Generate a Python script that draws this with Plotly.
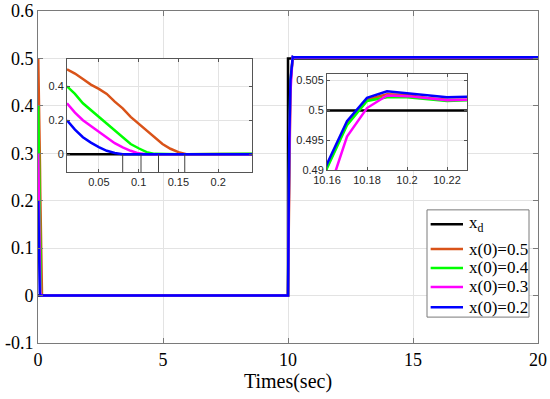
import plotly.graph_objects as go

# ---------------- data ----------------
# reference signal x_d
t_ref = [0, 10, 10, 20]
x_ref = [0, 0, 0.5, 0.5]

# decay phase (first 0.16 s)
t_decay = [0.01, 0.02, 0.03, 0.04, 0.05, 0.06, 0.07, 0.08, 0.09, 0.10,
           0.11, 0.12, 0.13, 0.14, 0.15, 0.16]
dec_05 = [0.5, 0.475, 0.443, 0.41, 0.385, 0.355, 0.31, 0.27, 0.22, 0.18,
          0.135, 0.095, 0.06, 0.032, 0.012, 0.0]
dec_04 = [0.4, 0.355, 0.30, 0.26, 0.22, 0.18, 0.135, 0.095, 0.06, 0.035,
          0.012, 0.002, 0.0, 0.0, 0.0, 0.0]
dec_03 = [0.3, 0.245, 0.20, 0.165, 0.135, 0.10, 0.065, 0.04, 0.02, 0.005,
          0.0, 0.0, 0.0, 0.0, 0.0, 0.0]
dec_02 = [0.2, 0.145, 0.10, 0.068, 0.042, 0.02, 0.007, 0.0, 0.0, 0.0,
          0.0, 0.0, 0.0, 0.0, 0.0, 0.0]

# rise phase after the step at t = 10 s
t_rise = [10.0, 10.05, 10.10, 10.15, 10.16, 10.17, 10.18, 10.19, 10.20,
          10.21, 10.22, 10.23, 20.0]
rise_05 = [0, 0.32, 0.45, 0.481, 0.4905, 0.4978, 0.5018, 0.5027, 0.5026,
           0.5021, 0.5018, 0.5019, 0.5019]
rise_04 = [0, 0.32, 0.45, 0.480, 0.4903, 0.4975, 0.5016, 0.5022, 0.5022,
           0.5019, 0.5016, 0.5017, 0.5017]
rise_03 = [0, 0.29, 0.43, 0.475, 0.4855, 0.4956, 0.5004, 0.5025, 0.5024,
           0.5020, 0.5017, 0.5018, 0.5018]
rise_02 = [0, 0.33, 0.455, 0.482, 0.4910, 0.4982, 0.5021, 0.5032, 0.5029,
           0.5025, 0.5022, 0.5023, 0.5023]

# times at which each response reaches zero (marked in the left inset)
settle_times = [0.08, 0.103, 0.125, 0.158]

ref_name = "x<sub>d</sub>"
series_names = ["x(0)=0.5", "x(0)=0.4", "x(0)=0.3", "x(0)=0.2"]
series_colors = ["#D95319", "#00FF00", "#FF00FF", "#0000FF"]
series_decay = [dec_05, dec_04, dec_03, dec_02]
series_rise = [rise_05, rise_04, rise_03, rise_02]

main_xticks = [0, 5, 10, 15, 20]
main_yticks = [-0.1, 0, 0.1, 0.2, 0.3, 0.4, 0.5, 0.6]
main_yticktext = ["-0.1", "0", "0.1", "0.2", "0.3", "0.4", "0.5", "0.6"]

in1_xrange = [0.01, 0.2425]
in1_yrange = [-0.105, 0.56]
in1_xticks = [0.05, 0.1, 0.15, 0.2]
in1_yticks = [0, 0.2, 0.4]

in2_xrange = [10.16, 10.23]
in2_yrange = [0.49, 0.5061]
in2_xticks = [10.16, 10.18, 10.2, 10.22]
in2_yticks = [0.49, 0.495, 0.5, 0.505]

# ---------------- figure ----------------
fig = go.Figure()

axes_sets = [("x", "y"), ("x2", "y2"), ("x3", "y3")]

for xa, ya in axes_sets:
    fig.add_trace(go.Scatter(x=t_ref, y=x_ref, mode="lines", name=ref_name,
                             line=dict(color="black", width=2.5),
                             xaxis=xa, yaxis=ya, showlegend=False))
    for name, col, dec, ris in zip(series_names, series_colors, series_decay, series_rise):
        fig.add_trace(go.Scatter(x=t_decay + t_rise, y=dec + ris, mode="lines",
                                 name=name, line=dict(color=col, width=2.5),
                                 xaxis=xa, yaxis=ya, showlegend=False))

# settling-time marker lines in left inset
mx, my = [], []
for ts in settle_times:
    mx += [ts, ts, None]
    my += [in1_yrange[0], 0, None]
fig.add_trace(go.Scatter(x=mx, y=my, mode="lines", line=dict(color="#404040", width=1),
                         xaxis="x2", yaxis="y2", showlegend=False))

serif = "Liberation Serif"
sans = "Liberation Sans"
axcol = "#7a7a7a"
gridcol = "#e3e3e3"

main_ax = dict(showline=True, linecolor=axcol, linewidth=1, mirror="ticks",
               ticks="inside", ticklen=5, tickcolor=axcol, showgrid=True,
               gridcolor=gridcol, zeroline=False, automargin=False,
               tickfont=dict(family=serif, size=18, color="black"))
inset_ax = dict(showline=True, linecolor="#555555", linewidth=1, mirror="ticks",
                ticks="inside", ticklen=3, tickcolor="#555555", showgrid=True,
                gridcolor=gridcol, zeroline=False, automargin=False,
                tickfont=dict(family=sans, size=11, color="#262626"))

shapes = [
    dict(type="rect", xref="x2", yref="y2", x0=in1_xrange[0], x1=in1_xrange[1],
         y0=in1_yrange[0], y1=in1_yrange[1], fillcolor="white",
         line=dict(width=0), layer="below"),
    dict(type="rect", xref="x3", yref="y3", x0=in2_xrange[0], x1=in2_xrange[1],
         y0=in2_yrange[0], y1=in2_yrange[1], fillcolor="white",
         line=dict(width=0), layer="below"),
]
annotations = []

# legend (box, line samples, labels) in paper coordinates
leg_box = dict(x0=0.778, x1=0.982, y0=0.078, y1=0.401)
leg_rows = [0.358, 0.283, 0.226, 0.169, 0.108]
leg_line_x = (0.7853, 0.85)
leg_text_x = 0.857
shapes.append(dict(type="rect", xref="paper", yref="paper", **leg_box,
                   fillcolor="white", line=dict(color=axcol, width=1), layer="above"))
for label, col, yy in zip([ref_name] + series_names, ["black"] + series_colors, leg_rows):
    shapes.append(dict(type="line", xref="paper", yref="paper",
                       x0=leg_line_x[0], x1=leg_line_x[1], y0=yy, y1=yy,
                       line=dict(color=col, width=2.5), layer="above"))
    annotations.append(dict(xref="paper", yref="paper", x=leg_text_x, y=yy,
                            xanchor="left", yanchor="middle", text=label,
                            showarrow=False,
                            font=dict(family=serif, size=17, color="black")))

fig.update_layout(
    width=550, height=399,
    margin=dict(l=38, r=12, t=11, b=56, autoexpand=False),
    paper_bgcolor="white", plot_bgcolor="white",
    showlegend=False,
    xaxis=dict(main_ax, range=[0, 20], tickvals=main_xticks,
               title=dict(text="Times(sec)", font=dict(family=serif, size=20, color="black"),
                          standoff=4)),
    yaxis=dict(main_ax, range=[-0.1, 0.6], tickvals=main_yticks, ticktext=main_yticktext),
    xaxis2=dict(inset_ax, domain=[0.058, 0.428], anchor="y2", range=in1_xrange,
                tickvals=in1_xticks),
    yaxis2=dict(inset_ax, domain=[0.515, 0.855], anchor="x2", range=in1_yrange,
                tickvals=in1_yticks),
    xaxis3=dict(inset_ax, domain=[0.578, 0.858], anchor="y3", range=in2_xrange,
                tickvals=in2_xticks),
    yaxis3=dict(inset_ax, domain=[0.521, 0.810], anchor="x3", range=in2_yrange,
                tickvals=in2_yticks),
    shapes=shapes,
    annotations=annotations,
)

fig.write_html("out.html", config={"displayModeBar": False},
               post_script="document.body.style.margin='0';document.body.style.padding='0';")
